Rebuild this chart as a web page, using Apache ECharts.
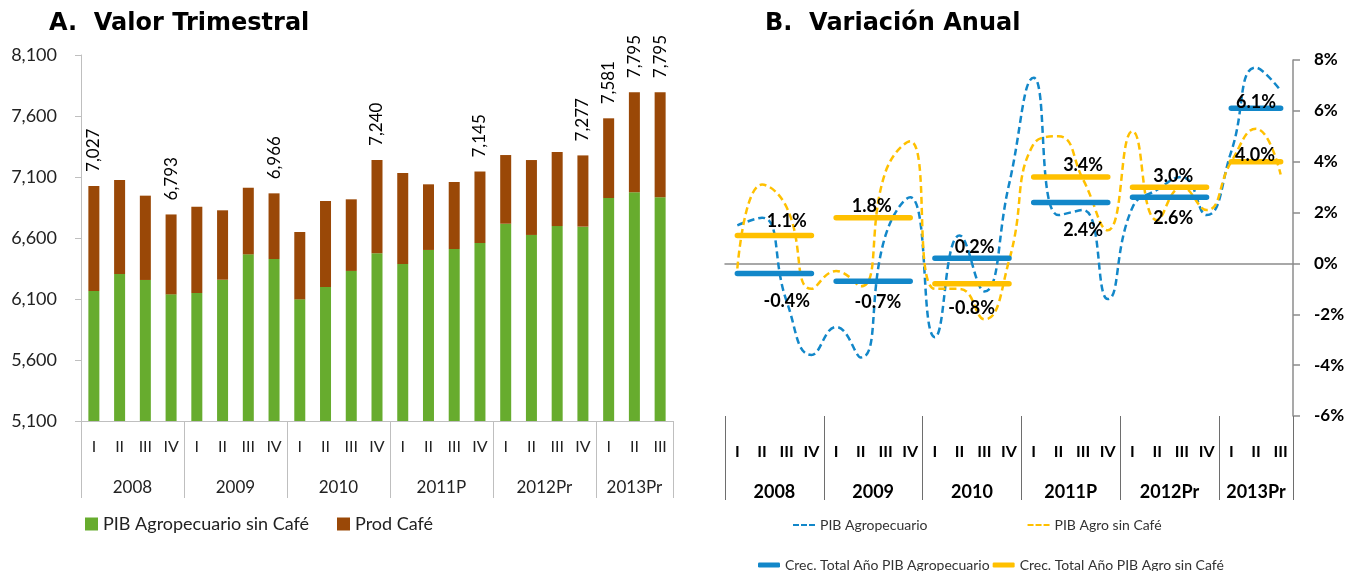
<!DOCTYPE html>
<html lang="es">
<head>
	<meta charset="UTF-8">
	<title>PIB Agropecuario: Valor Trimestral y Variación Anual</title>
	<script src="https://cdn.jsdelivr.net/npm/echarts@6/dist/echarts.min.js"></script>
	<style>
		html, body { margin: 0; padding: 0; background: #fff; }
		#grafico { width: 1351px; height: 571px; }
	</style>
</head>
<body>
<div id="grafico"></div>
<script>
	// ---- datos ----
	var trimestres = ['I', 'II', 'III', 'IV', 'I', 'II', 'III', 'IV', 'I', 'II', 'III', 'IV',
		'I', 'II', 'III', 'IV', 'I', 'II', 'III', 'IV', 'I', 'II', 'III'];
	var anios = ['2008', '2009', '2010', '2011P', '2012Pr', '2013Pr'];
	var trimPorAnio = [4, 4, 4, 4, 4, 3];

	// A. Valor trimestral
	var pibSinCafe = [6166, 6305, 6256, 6138, 6149, 6258, 6466, 6428, 6097, 6198, 6330, 6474,
		6387, 6502, 6510, 6559, 6717, 6625, 6698, 6693, 6928, 6974, 6934];
	var prodCafe = [861, 770, 691, 655, 708, 569, 546, 538, 552, 705, 587, 766,
		746, 538, 549, 586, 563, 614, 607, 584, 653, 821, 861];
	var etiquetasTotal = [7027, null, null, 6793, null, null, null, 6966, null, null, null, 7240,
		null, null, null, 7145, null, null, null, 7277, 7581, 7795, 7795];
	var ticksValor = [5100, 8100, 500];

	// B. Variación anual (%)
	var varAgro = [1.5, 1.8, -1.5, -3.6, -2.5, -3.7, 1.1, 2.6, -2.9, 1.1, -1.1, 3.1,
		7.3, 1.9, 2.1, -1.4, 2.2, 2.9, 3.4, 1.9, 4.4, 7.7, 6.8];
	var varSinCafe = [-0.2, 3.1, 2.2, -1.0, -0.3, -0.9, 3.6, 4.8, -1.0, -1.0, -2.2, 0.1,
		4.7, 5.0, 3.3, 1.3, 5.2, 1.7, 3.0, 2.1, 4.0, 5.3, 3.5];
	var crecAnualAgro = [-0.4, -0.7, 0.2, 2.4, 2.6, 6.1];
	var crecAnualSinCafe = [1.1, 1.8, -0.8, 3.4, 3.0, 4.0];
	var ticksVar = [-6, 8, 2];

	// ---- estilo ----
	var verde = '#67AC2E', cafe = '#9A4807', azul = '#1287C9', amarillo = '#FFC000';
	var fuente = 'Lato';
	// [trimestre, dx, dy] de cada etiqueta anual
	var etiqAgro = [[2, 0, 28], [1, 17, 21], [1, 15, -11], [2, 0, 28], [1, 16, 21], [1, 0, -6]];
	var etiqSinCafe = [[2, 0, -14], [1, 11, -11], [1, 12, 24], [2, 0, -12], [1, 16, -11], [1, -1, -7]];
	var iconoGuiones = 'path://M0,0h6v2h-6zM8,0h6v2h-6zM16,0h6v2h-6z';

	var limites = [0], centros = [];
	for (var k = 0; k < trimPorAnio.length; k++) {
		var ini = limites[limites.length - 1];
		limites.push(ini + trimPorAnio[k]);
		centros.push(ini + trimPorAnio[k] / 2);
	}

	function nombreAnio(v) {
		var i = centros.indexOf(v);
		return i < 0 ? '' : anios[i];
	}

	var cafeData = [];
	for (var i = 0; i < prodCafe.length; i++) {
		if (etiquetasTotal[i]) {
			cafeData.push({ value: prodCafe[i], label: { show: true } });
		} else {
			cafeData.push(prodCafe[i]);
		}
	}

	function serieAnual(nombre, valores, color, etiq) {
		var lista = [];
		var ini = 0;
		for (var k = 0; k < anios.length; k++) {
			var data = [];
			for (var i = 0; i < trimestres.length; i++) data.push(null);
			for (var q = 0; q < trimPorAnio[k]; q++) data[ini + q] = valores[k];
			var e = etiq[k];
			data[ini + e[0]] = { value: valores[k], label: { show: true, offset: [e[1], e[2]] } };
			lista.push({
				name: nombre,
				type: 'line',
				xAxisIndex: 2,
				yAxisIndex: 1,
				data: data,
				symbol: 'circle',
				symbolSize: 1,
				showSymbol: true,
				itemStyle: { color: color },
				lineStyle: { color: color, width: 5.5, cap: 'round' },
				label: {
					show: false,
					position: 'inside',
					formatter: function (p) { return p.value.toFixed(1) + '%'; },
					fontFamily: fuente,
					fontWeight: 'bold',
					fontSize: 18,
					color: '#000'
				},
				z: 3
			});
			ini += trimPorAnio[k];
		}
		return lista;
	}

	var chart = echarts.init(document.getElementById('grafico'));

	var series = [
		{
			name: 'PIB Agropecuario sin Café',
			type: 'bar',
			stack: 'valor',
			xAxisIndex: 0,
			yAxisIndex: 0,
			barWidth: 11,
			itemStyle: { color: verde },
			data: pibSinCafe
		},
		{
			name: 'Prod Café',
			type: 'bar',
			stack: 'valor',
			xAxisIndex: 0,
			yAxisIndex: 0,
			barWidth: 11,
			itemStyle: { color: cafe },
			label: {
				show: false,
				position: ['50%', -14],
				rotate: 90,
				align: 'left',
				verticalAlign: 'middle',
				fontFamily: fuente,
				fontSize: 17,
				color: '#000',
				formatter: function (p) {
					return etiquetasTotal[p.dataIndex].toLocaleString('en-US');
				}
			},
			data: cafeData
		},
		{
			name: 'PIB Agropecuario',
			type: 'line',
			xAxisIndex: 2,
			yAxisIndex: 1,
			data: varAgro,
			smooth: true,
			symbol: 'none',
			lineStyle: { color: azul, width: 2.5, type: [7, 4] },
			itemStyle: { color: azul },
			z: 2
		},
		{
			name: 'PIB Agro sin Café',
			type: 'line',
			xAxisIndex: 2,
			yAxisIndex: 1,
			data: varSinCafe,
			smooth: true,
			symbol: 'none',
			lineStyle: { color: amarillo, width: 2.5, type: [7, 4] },
			itemStyle: { color: amarillo },
			z: 2
		}
	];
	series = series.concat(serieAnual('Crec. Total Año PIB Agropecuario', crecAnualAgro, azul, etiqAgro));
	series = series.concat(serieAnual('Crec. Total Año PIB Agro sin Café', crecAnualSinCafe, amarillo, etiqSinCafe));

	var tituloStyle = { fontFamily: 'DejaVu Sans', fontWeight: 'bold', fontSize: 24, color: '#000' };

	chart.setOption({
		animation: false,
		backgroundColor: '#fff',
		title: [
			{ text: 'A.  Valor Trimestral', left: 49, top: 12, padding: 0, textStyle: tituloStyle },
			{ text: 'B.  Variación Anual', left: 765, top: 12, padding: 0, textStyle: tituloStyle }
		],
		legend: [
			{
				data: ['PIB Agropecuario sin Café', 'Prod Café'],
				left: 85, top: 515, padding: 0,
				icon: 'rect', itemWidth: 13, itemHeight: 13, itemGap: 28,
				textStyle: { fontFamily: fuente, fontSize: 18, color: '#222' }
			},
			{
				data: ['PIB Agropecuario', 'PIB Agro sin Café'],
				left: 793, top: 518, padding: 0,
				icon: iconoGuiones, itemWidth: 22, itemHeight: 2.5, itemGap: 100,
				textStyle: { fontFamily: fuente, fontSize: 14, color: '#333' }
			},
			{
				data: ['Crec. Total Año PIB Agropecuario', 'Crec. Total Año PIB Agro sin Café'],
				left: 758, top: 558, padding: 0,
				icon: 'roundRect', itemWidth: 22, itemHeight: 5, itemGap: 3,
				textStyle: { fontFamily: fuente, fontSize: 14, color: '#333' }
			}
		],
		grid: [
			{ left: 81, top: 55, width: 592, height: 366 },
			{ left: 725, top: 60, width: 568, height: 356 }
		],
		xAxis: [
			{
				gridIndex: 0, type: 'category', data: trimestres, position: 'bottom',
				axisLine: { onZero: false, lineStyle: { color: '#BFBFBF' } },
				axisTick: { interval: 0, length: 38, lineStyle: { color: '#BFBFBF' } },
				axisLabel: { interval: 0, margin: 18, fontFamily: fuente, fontSize: 16, color: '#222' }
			},
			{
				gridIndex: 0, type: 'value', min: 0, max: limites[limites.length - 1], position: 'bottom',
				axisLine: { show: false, onZero: false },
				splitLine: { show: false },
				axisTick: { customValues: limites, length: 77, lineStyle: { color: '#BFBFBF' } },
				axisLabel: { customValues: centros, formatter: nombreAnio, margin: 58, fontFamily: fuente, fontSize: 17, color: '#222' }
			},
			{
				gridIndex: 1, type: 'category', data: trimestres,
				axisLine: { onZero: true, lineStyle: { color: '#8C8C8C', width: 1.5 } },
				axisTick: { interval: 0, length: 8, lineStyle: { color: '#8C8C8C', width: 1.5 } },
				axisLabel: { show: false }
			},
			{
				gridIndex: 1, type: 'category', data: trimestres, position: 'bottom',
				axisLine: { show: false, onZero: false },
				axisTick: { interval: 0, length: 44, lineStyle: { color: '#6E6E6E' } },
				axisLabel: { interval: 0, margin: 28, fontFamily: fuente, fontWeight: 'bold', fontSize: 16, color: '#000' }
			},
			{
				gridIndex: 1, type: 'value', min: 0, max: limites[limites.length - 1], position: 'bottom',
				axisLine: { show: false, onZero: false },
				splitLine: { show: false },
				axisTick: { customValues: limites, length: 84, lineStyle: { color: '#6E6E6E' } },
				axisLabel: { customValues: centros, formatter: nombreAnio, margin: 67, fontFamily: fuente, fontWeight: 'bold', fontSize: 18, color: '#000' }
			}
		],
		yAxis: [
			{
				gridIndex: 0, type: 'value', min: ticksValor[0], max: ticksValor[1], interval: ticksValor[2],
				axisLine: { show: true, onZero: false, lineStyle: { color: '#BFBFBF' } },
				axisTick: { show: true, length: 6, lineStyle: { color: '#BFBFBF' } },
				splitLine: { show: false },
				axisLabel: {
					margin: 24, fontFamily: fuente, fontSize: 18, color: '#222',
					formatter: function (v) { return v.toLocaleString('en-US'); }
				}
			},
			{
				gridIndex: 1, type: 'value', position: 'right', min: ticksVar[0], max: ticksVar[1], interval: ticksVar[2],
				axisLine: { show: true, onZero: false, lineStyle: { color: '#8C8C8C', width: 1.5 } },
				axisTick: { show: true, length: 7, lineStyle: { color: '#8C8C8C', width: 1.5 } },
				splitLine: { show: false },
				axisLabel: { margin: 21, fontFamily: fuente, fontWeight: 'bold', fontSize: 17, color: '#000', formatter: '{value}%' }
			}
		],
		series: series
	});
</script>
</body>
</html>
